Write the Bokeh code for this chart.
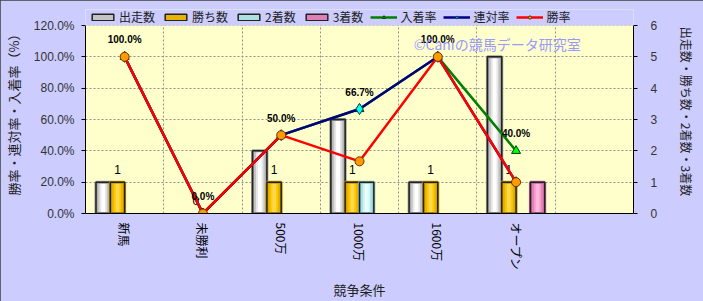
import math
from bokeh.plotting import figure
from bokeh.models import (Range1d, LinearAxis, FixedTicker, NumeralTickFormatter,
                          Legend, LegendItem, Label, ColumnDataSource, BoxAnnotation)
from bokeh.core.properties import value
from bokeh.embed import file_html
from bokeh.resources import INLINE

# ---- data ----
categories = ["新馬", "未勝利", "500万", "1000万", "1600万", "オープン"]
runs = [1, 0, 2, 3, 1, 5]          # 出走数
wins = [1, 0, 1, 1, 1, 1]          # 勝ち数
seconds = [0, 0, 0, 1, 0, 0]       # 2着数
thirds = [0, 0, 0, 0, 0, 1]        # 3着数
place_rate = [1.0, 0.0, 0.5, 0.667, 1.0, 0.4]    # 入着率
rentai_rate = [1.0, 0.0, 0.5, 0.667, 1.0, 0.2]   # 連対率
win_rate = [1.0, 0.0, 0.5, 0.333, 1.0, 0.2]      # 勝率
place_labels = ["100.0%", "0.0%", "50.0%", "66.7%", "100.0%", "40.0%"]
right_title = "出走数・勝ち数・2着数・3着数"

JP = "Noto Sans CJK JP"
NUM = "Liberation Sans"
LAV = "#CCCCFF"

xs = [i + 0.5 for i in range(len(categories))]

# frame extends 16px above the 120% line to host the legend strip
EXT = 204 / 188
p = figure(width=703, height=301, output_backend="svg", toolbar_location=None,
           x_range=Range1d(0, 7), y_range=Range1d(0, 1.2 * EXT),
           min_border_left=78, min_border_right=70, min_border_top=9, min_border_bottom=88)
p.background_fill_color = "#FFFFCC"
p.border_fill_color = LAV
p.outline_line_color = None
p.styles = {"outline": "2px solid #404040", "outline-offset": "-2px"}
p.extra_y_ranges = {"cnt": Range1d(0, 6 * EXT)}

# grids
p.xgrid.ticker = FixedTicker(ticks=[1, 2, 3, 4, 5, 6])
p.ygrid.ticker = FixedTicker(ticks=[0.2, 0.4, 0.6, 0.8, 1.0])
for g in (p.xgrid, p.ygrid):
    g.grid_line_color = "#909090"
    g.grid_line_dash = "2 2"
    g.grid_line_width = 1

# strip above the plot area (legend band)
p.add_layout(BoxAnnotation(bottom=1.2, top=3, left=-1, right=8, fill_color=LAV, fill_alpha=1,
                           line_color="#808080", line_dash="2 2", line_width=1))

# x axis
xa = p.xaxis[0]
xa.ticker = FixedTicker(ticks=xs)
xa.major_label_overrides = {x: c for x, c in zip(xs, categories)}
xa.major_label_orientation = "vertical"
xa.major_tick_line_color = None
xa.major_tick_out = 0
xa.major_tick_in = 0
xa.minor_tick_line_color = None
xa.major_label_standoff = 9
xa.major_label_text_font = JP
xa.major_label_text_font_size = "12px"
xa.major_label_text_color = "#000000"
xa.axis_line_color = "#000000"
xa.axis_label = "競争条件"
xa.axis_label_text_font = JP
xa.axis_label_text_font_size = "13px"
xa.axis_label_text_font_style = "normal"
xa.axis_label_text_color = "#222222"
xa.axis_label_standoff = 6

# left axis
ya = p.yaxis[0]
ya.bounds = (0, 1.2)
ya.ticker = FixedTicker(ticks=[0, 0.2, 0.4, 0.6, 0.8, 1.0, 1.2])
ya.formatter = NumeralTickFormatter(format="0.0%")
ya.major_label_text_font = NUM
ya.major_label_text_font_size = "12px"
ya.major_label_text_color = "#333333"
ya.major_tick_out = 4
ya.major_tick_in = 0
ya.minor_tick_line_color = None
ya.major_label_standoff = 7
ya.axis_line_color = "#000000"
ya.axis_label = "勝率・連対率・入着率（%）"
ya.axis_label_text_font = JP
ya.axis_label_text_font_size = "13px"
ya.axis_label_text_font_style = "normal"
ya.axis_label_text_color = "#222222"
ya.axis_label_standoff = 8

# right axis
ra = LinearAxis(y_range_name="cnt", ticker=FixedTicker(ticks=[0, 1, 2, 3, 4, 5, 6]))
ra.bounds = (0, 6)
ra.major_label_text_font = NUM
ra.major_label_text_font_size = "12px"
ra.major_label_text_color = "#333333"
ra.major_tick_out = 4
ra.major_tick_in = 0
ra.minor_tick_line_color = None
ra.major_label_standoff = 13
ra.axis_line_color = "#000000"
ra.axis_label = right_title
ra.axis_label_text_font = JP
ra.axis_label_text_font_size = "12px"
ra.axis_label_text_font_style = "normal"
ra.axis_label_text_color = "#222222"
ra.axis_label_standoff = 18
p.add_layout(ra, "right")

# ---- bars ----
BW = 0.183
bar_series = [
    ("出走数", runs, -1.5, ["#9A9A9A", "#C4C4C4", "#E6E6E6", "#FFFFFF"]),
    ("勝ち数", wins, -0.5, ["#C89B00", "#E6B400", "#FFC800", "#FFD84D"]),
    ("2着数", seconds, 0.5, ["#8CBFBF", "#AEE0E0", "#CCF5F5", "#EAFFFF"]),
    ("3着数", thirds, 1.5, ["#C0609A", "#DE80B4", "#F59ACA", "#FFB8DC"]),
]
legend_items = []
for name, vals, off, cols in bar_series:
    pairs = [(x + off * BW, v) for x, v in zip(xs, vals) if v > 0]
    src = ColumnDataSource(dict(x=[a for a, _ in pairs], top=[b for _, b in pairs]))
    base = p.vbar(x="x", top="top", width=BW, source=src, y_range_name="cnt",
                  fill_color=cols[1], line_color=None)
    for frac, col in zip([0.78, 0.52, 0.26], cols[1:]):
        p.vbar(x="x", top="top", width=BW * frac, source=src, y_range_name="cnt",
               fill_color=col, line_color=None)
    p.vbar(x="x", top="top", width=BW, source=src, y_range_name="cnt",
           fill_color=None, line_color=cols[0], line_width=3)
    p.vbar(x="x", top="top", width=BW, source=src, y_range_name="cnt",
           fill_color=None, line_color="#222222", line_width=1.5)
    base.glyph.line_color = "#222222"
    base.glyph.line_width = 1.5
    legend_items.append(LegendItem(label=name, renderers=[base]))

# bar value labels (勝ち数)
p.text(x=[x - 0.5 * BW for x in xs], y=wins, text=[str(v) for v in wins],
       y_range_name="cnt", text_align="center", text_baseline="middle",
       y_offset=-13, text_font=value(NUM), text_font_size="12px", text_color="#000000")

# ---- lines ----
lg = p.line(xs, place_rate, line_color="#008000", line_width=2.5)
mg = p.scatter(xs, place_rate, marker="triangle", size=9, fill_color="#00FF00",
               line_color="#004000", line_width=1)
lb = p.line(xs, rentai_rate, line_color="#000080", line_width=2.5)
mb = p.scatter(xs, rentai_rate, marker="diamond", size=11, fill_color="#00FFFF",
               line_color="#004040", line_width=1)
lr = p.line(xs, win_rate, line_color="#FF0000", line_width=2.5)
mr = p.scatter(xs, win_rate, marker="circle", size=9, fill_color="#FF9900",
               line_color="#663300", line_width=1)
legend_items += [LegendItem(label="入着率", renderers=[lg, mg]),
                 LegendItem(label="連対率", renderers=[lb, mb]),
                 LegendItem(label="勝率", renderers=[lr, mr])]

# rate labels (入着率)
p.text(x=xs, y=place_rate, text=place_labels, text_align="center",
       text_baseline="middle", y_offset=-17, text_font=value(NUM),
       text_font_size="10px", text_font_style="bold", text_color="#000000")

# watermark
p.add_layout(Label(x=5.26, y=1.085, text="©Caniの競馬データ研究室", text_align="center",
                   text_baseline="middle", text_font=JP, text_font_size="14px",
                   text_color="#9999FF"))

legend = Legend(items=legend_items, location=(4, 188), orientation="horizontal",
                background_fill_alpha=0, border_line_color=None, padding=0, margin=0,
                spacing=7, glyph_width=27, glyph_height=8, label_standoff=3,
                label_height=16, label_text_font=JP, label_text_font_size="12px",
                label_text_color="#222222")
p.add_layout(legend, "center")

open("out.html", "w").write(file_html(p, INLINE))
